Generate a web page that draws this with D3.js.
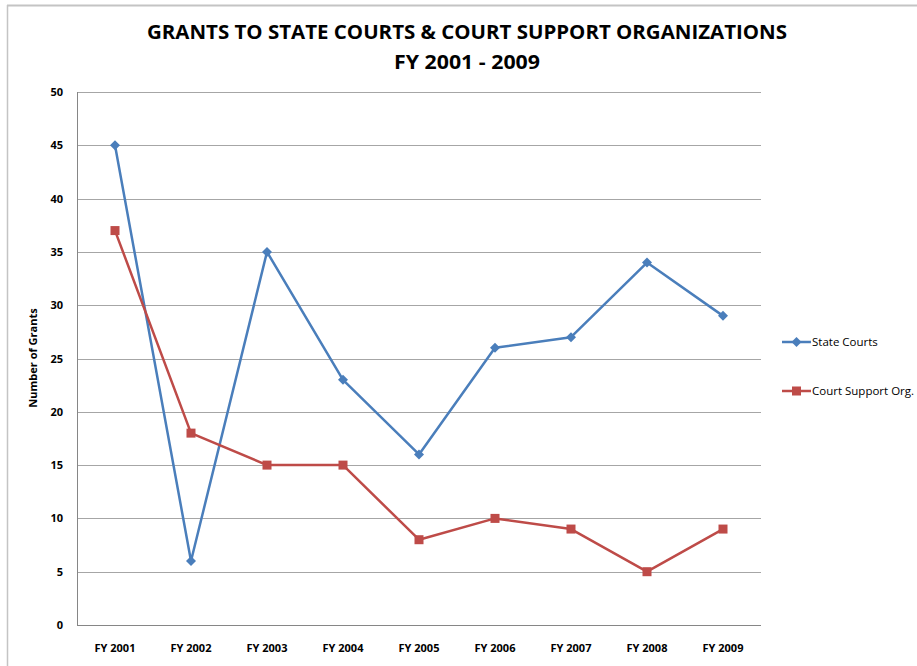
<!DOCTYPE html>
<html>
<head>
    <script src="https://d3js.org/d3.v7.min.js"></script>
    <style>
        body { margin: 0; background: #fff; }
        text { font-family: "Liberation Sans Narrow", "Open Sans", "Liberation Sans", sans-serif; }
    </style>
</head>
<body>
    <svg id="chart" width="917" height="666"></svg>
    <script>
        var years = ["FY 2001", "FY 2002", "FY 2003", "FY 2004", "FY 2005", "FY 2006", "FY 2007", "FY 2008", "FY 2009"];
        var stateCourts = [45, 6, 35, 23, 16, 26, 27, 34, 29];
        var courtSupport = [37, 18, 15, 15, 8, 10, 9, 5, 9];
        var yTicks = [0, 5, 10, 15, 20, 25, 30, 35, 40, 45, 50];

        var svg = d3.select("#chart");
        var margin = { left: 77, right: 155, top: 92, bottom: 41 };
        var width = 917, height = 666;

        // outer frame (top and left edges visible)
        svg.append("line").attr("x1", 7).attr("x2", 917).attr("y1", 5.5).attr("y2", 5.5)
            .attr("stroke", "#c4c4c4").attr("stroke-width", 2);
        svg.append("line").attr("x1", 7.5).attr("x2", 7.5).attr("y1", 5).attr("y2", 666)
            .attr("stroke", "#c4c4c4").attr("stroke-width", 1.5);

        var x = d3.scaleBand().domain(years).range([margin.left, 761]);
        var y = d3.scaleLinear().domain([0, 50]).range([625, margin.top]);

        // gridlines
        svg.append("g").selectAll("line").data(yTicks.filter(d => d > 0)).enter().append("line")
            .attr("x1", margin.left).attr("x2", 761)
            .attr("y1", d => Math.round(y(d)) + 0.5).attr("y2", d => Math.round(y(d)) + 0.5)
            .attr("stroke", "#a6a6a6").attr("stroke-width", 1);

        // axis lines
        svg.append("line").attr("x1", margin.left + 0.5).attr("x2", margin.left + 0.5)
            .attr("y1", margin.top).attr("y2", 625.5).attr("stroke", "#868686");
        svg.append("line").attr("x1", margin.left).attr("x2", 761)
            .attr("y1", 625.5).attr("y2", 625.5).attr("stroke", "#868686");

        // y tick labels
        svg.append("g").selectAll("text").data(yTicks).enter().append("text")
            .attr("x", 63).attr("y", d => y(d) + 4)
            .attr("text-anchor", "end")
            .attr("font-size", 11).attr("font-weight", "bold")
            .text(d => d);

        // x tick labels
        svg.append("g").selectAll("text").data(years).enter().append("text")
            .attr("x", d => x(d) + x.bandwidth() / 2).attr("y", 652)
            .attr("text-anchor", "middle")
            .attr("font-size", 11).attr("font-weight", "bold")
            .text(d => d);

        // y axis title
        svg.append("text")
            .attr("transform", "translate(37,358) rotate(-90)")
            .attr("text-anchor", "middle")
            .attr("font-size", 11).attr("font-weight", "bold")
            .text("Number of Grants");

        // title
        svg.append("text").attr("x", 467).attr("y", 39)
            .attr("text-anchor", "middle").attr("font-size", 20).attr("font-weight", "bold")
            .attr("textLength", 640).attr("lengthAdjust", "spacingAndGlyphs")
            .text("GRANTS TO STATE COURTS & COURT SUPPORT ORGANIZATIONS");
        svg.append("text").attr("x", 467).attr("y", 69)
            .attr("text-anchor", "middle").attr("font-size", 20).attr("font-weight", "bold")
            .attr("textLength", 146).attr("lengthAdjust", "spacingAndGlyphs")
            .text("FY 2001 - 2009");

        var cx = (d, i) => x(years[i]) + x.bandwidth() / 2;
        var line = d3.line().x((d, i) => cx(d, i)).y(d => y(d));

        var series = [
            { name: "State Courts", values: stateCourts, color: "#4a7ebb", marker: "diamond" },
            { name: "Court Support Org.", values: courtSupport, color: "#be4b48", marker: "square" }
        ];

        function marker(g, s, px, py) {
            if (s.marker == "diamond") {
                g.append("path")
                    .attr("d", "M" + px + "," + (py - 5) + "L" + (px + 5) + "," + py + "L" + px + "," + (py + 5) + "L" + (px - 5) + "," + py + "Z")
                    .attr("fill", s.color);
            } else {
                g.append("rect").attr("x", px - 4.5).attr("y", py - 4.5)
                    .attr("width", 9).attr("height", 9).attr("fill", s.color);
            }
        }

        series.forEach(function (s, k) {
            var g = svg.append("g");
            g.append("path").datum(s.values).attr("d", line)
                .attr("fill", "none").attr("stroke", s.color).attr("stroke-width", 2.5)
                .attr("stroke-linejoin", "round");
            s.values.forEach(function (v, i) { marker(g, s, cx(v, i), y(v)); });

            // legend
            var ly = 342 + k * 49;
            g.append("line").attr("x1", 782).attr("x2", 811).attr("y1", ly).attr("y2", ly)
                .attr("stroke", s.color).attr("stroke-width", 2.5);
            marker(g, s, 796.5, ly);
            g.append("text").attr("x", 812).attr("y", ly + 4)
                .attr("font-size", 11.5).text(s.name);
        });
    </script>
</body>
</html>
